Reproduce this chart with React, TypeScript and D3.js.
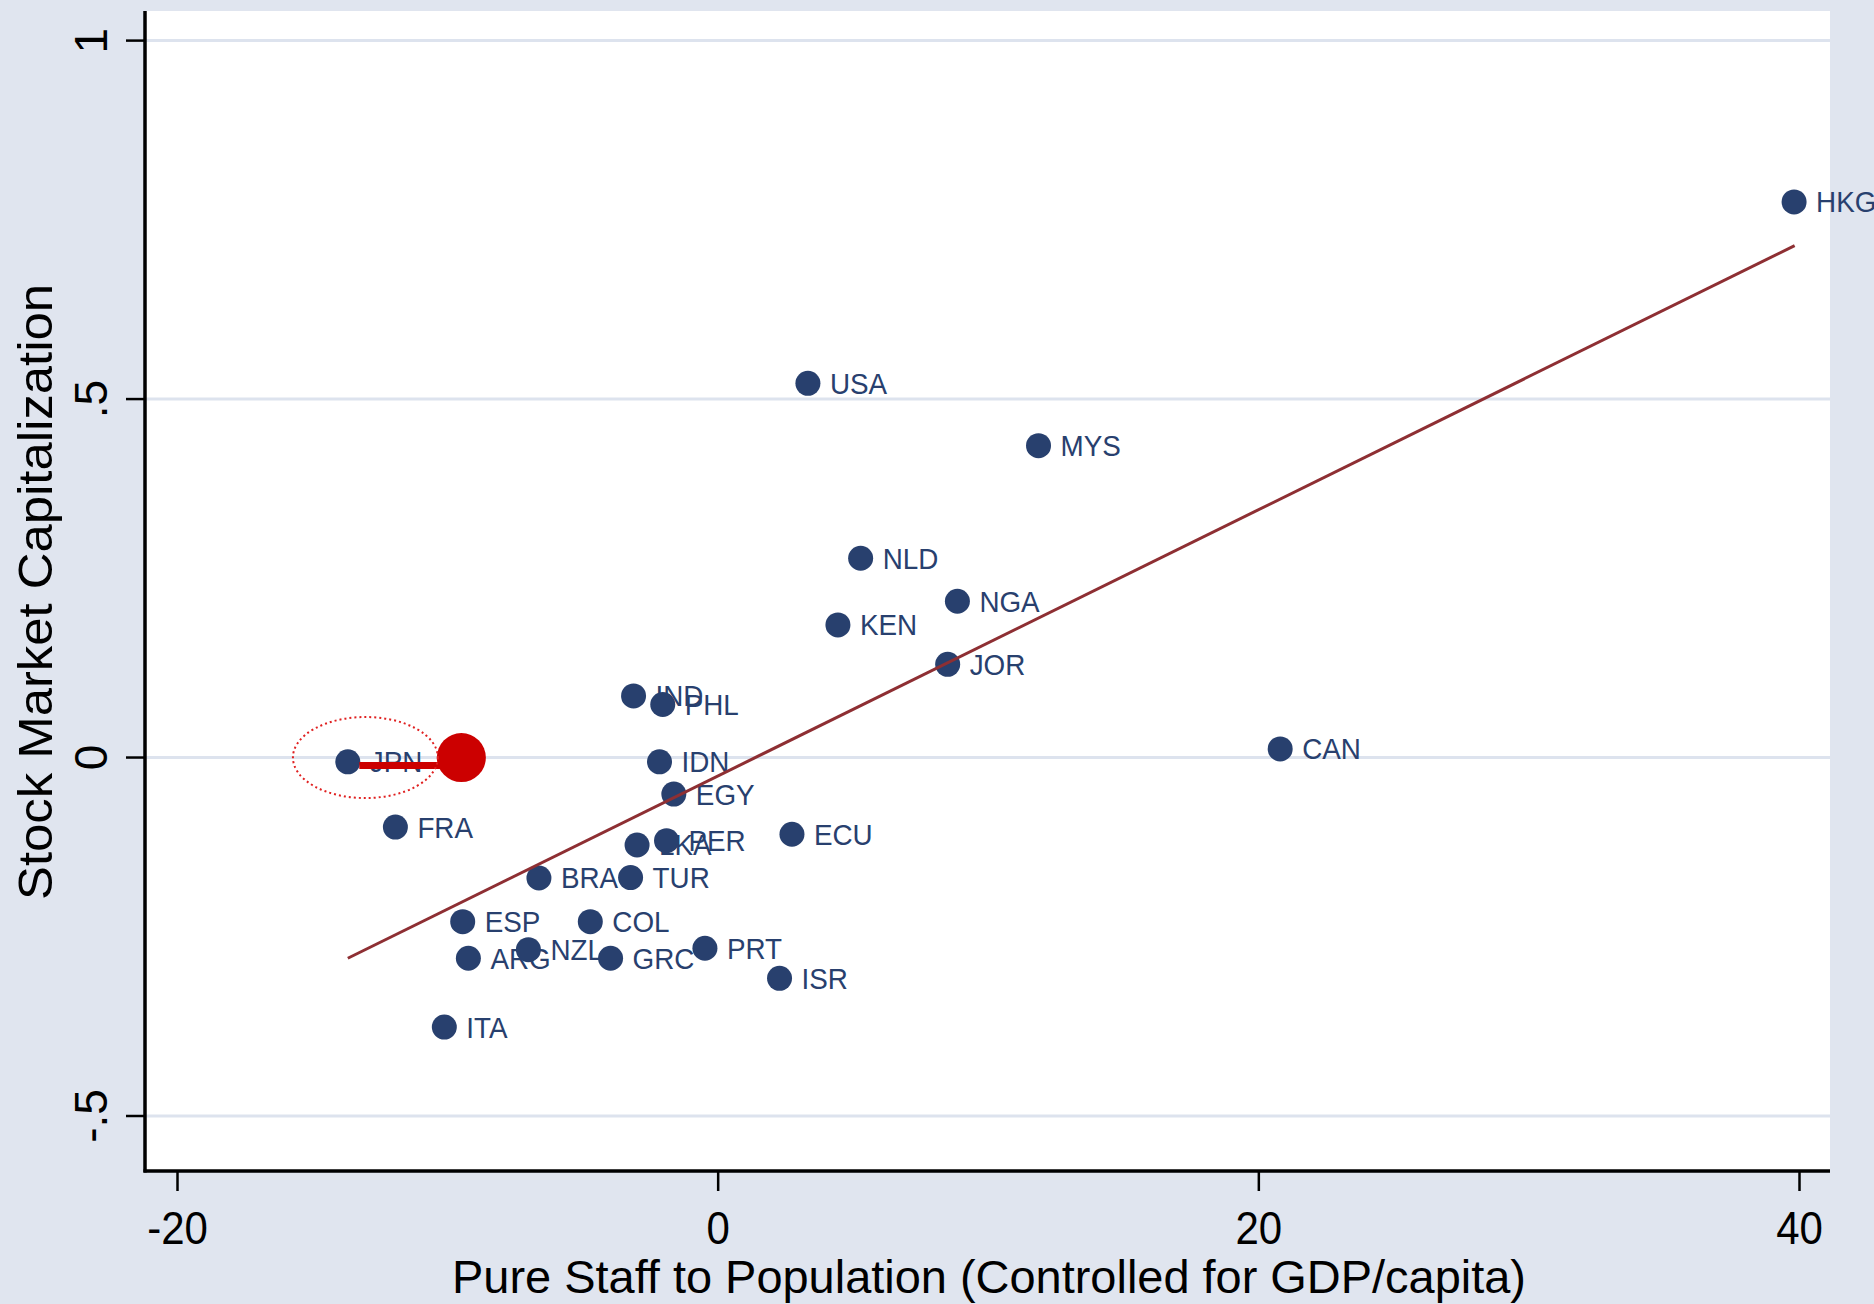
import React from "react";
import * as d3 from "d3";

// Country codes with staff-to-population (x) and stock market capitalization (y)
const countries = [
  "HKG", "USA", "MYS", "NLD", "NGA", "KEN", "JOR", "IND", "PHL", "CAN",
  "JPN", "IDN", "EGY", "FRA", "ECU", "LKA", "PER", "BRA", "TUR", "ESP",
  "COL", "PRT", "NZL", "ARG", "GRC", "ISR", "ITA",
];
const staff = [
  39.8, 3.32, 11.85, 5.27, 8.85, 4.43, 8.49, -3.13, -2.05, 20.79,
  -13.7, -2.17, -1.64, -11.94, 2.73, -3.0, -1.91, -6.63, -3.24, -9.45,
  -4.73, -0.49, -7.02, -9.24, -3.98, 2.27, -10.13,
];
const capitalization = [
  0.775, 0.522, 0.435, 0.278, 0.218, 0.185, 0.13, 0.086, 0.074, 0.012,
  -0.006, -0.006, -0.051, -0.097, -0.107, -0.122, -0.116, -0.168, -0.1675, -0.229,
  -0.229, -0.266, -0.268, -0.28, -0.28, -0.308, -0.376,
];

// Linear fit endpoints
const fitX = [-13.7, 39.82];
const fitY = [-0.28, 0.714];

// Japan shifted to its counterfactual position
const shiftCountry = "JPN";
const shiftedX = -9.5;
const shiftedY = 0.0;
const shiftLineY = -0.011;
// Dotted ring around the original Japan position (center x, center y, radius x, radius y)
const ringCenter = [-13.05, 0];
const ringRadius = [2.68, 0.0565];

const xTicks = [-20, 0, 20, 40];
const yTicks = [-0.5, 0, 0.5, 1];
const yTickLabels = ["-.5", "0", ".5", "1"];

const xTitle = "Pure Staff to Population (Controlled for GDP/capita)";
const yTitle = "Stock Market Capitalization";

const W = 1874;
const H = 1304;
const plotLeft = 145;
const plotRight = 1830;
const plotTop = 11;
const plotBottom = 1171;

const BG = "#E0E5EF";
const GRID = "#DDE3EE";
const NAVY = "#28406E";
const FIT = "#8E2F33";
const RED = "#CC0000";
const FONT = "'Liberation Sans', Arial, Helvetica, sans-serif";

export default function App() {
  const x = d3.scaleLinear().domain([-20, 40]).range([177.5, 1799.5]);
  const y = d3.scaleLinear().domain([-0.5, 1]).range([1116, 40.6]);
  const r = 12.5;

  const points = countries.map((c, i) => ({ c, px: x(staff[i]), py: y(capitalization[i]) }));
  const jpn = points.find((p) => p.c === shiftCountry)!;

  const fitPath = d3.line<number>()
    .x((_, i) => x(fitX[i]))
    .y((v) => y(v))(fitY) as string;

  return (
    <svg
      width={W}
      height={H}
      style={{ position: "absolute", left: 0, top: 0, display: "block" }}
      fontFamily={FONT}
    >
      <rect x={0} y={0} width={W} height={H} fill={BG} />
      <rect x={plotLeft} y={plotTop} width={plotRight - plotLeft} height={plotBottom - plotTop} fill="#FFFFFF" />

      {/* horizontal gridlines */}
      {yTicks.map((t) => (
        <line key={"g" + t} x1={plotLeft} x2={plotRight} y1={y(t)} y2={y(t)} stroke={GRID} strokeWidth={3} />
      ))}

      {/* markers with labels */}
      {points.map((p) => (
        <g key={p.c}>
          <circle cx={p.px} cy={p.py} r={r} fill={NAVY} />
          <text
            transform={`translate(${p.px + 22},${p.py + 10.5}) scale(1.03,1.1)`}
            fontSize={27}
            fill={NAVY}
          >
            {p.c}
          </text>
        </g>
      ))}

      {/* fitted line */}
      <path d={fitPath} fill="none" stroke={FIT} strokeWidth={3} />

      {/* shift of Japan */}
      <line
        x1={jpn.px + r - 1}
        x2={x(shiftedX)}
        y1={y(shiftLineY)}
        y2={y(shiftLineY)}
        stroke={RED}
        strokeWidth={7}
      />
      <circle cx={x(shiftedX)} cy={y(shiftedY)} r={24.5} fill={RED} />
      <ellipse
        cx={x(ringCenter[0])}
        cy={y(ringCenter[1])}
        rx={x(ringCenter[0] + ringRadius[0]) - x(ringCenter[0])}
        ry={y(ringCenter[1]) - y(ringCenter[1] + ringRadius[1])}
        fill="none"
        stroke="#E02020"
        strokeWidth={2}
        strokeDasharray="2 3"
      />

      {/* axes */}
      <line x1={plotLeft} x2={plotLeft} y1={plotTop} y2={plotBottom + 1.5} stroke="#000" strokeWidth={3.5} />
      <line x1={plotLeft - 1.5} x2={plotRight} y1={plotBottom} y2={plotBottom} stroke="#000" strokeWidth={3.5} />

      {xTicks.map((t) => (
        <g key={"x" + t}>
          <line x1={x(t)} x2={x(t)} y1={plotBottom} y2={plotBottom + 20} stroke="#000" strokeWidth={2.5} />
          <text
            transform={`translate(${x(t)},1244) scale(1,1.1)`}
            textAnchor="middle"
            fontSize={42}
            fill="#000"
          >
            {t}
          </text>
        </g>
      ))}

      {yTicks.map((t, i) => (
        <g key={"y" + t}>
          <line x1={plotLeft - 19} x2={plotLeft} y1={y(t)} y2={y(t)} stroke="#000" strokeWidth={2.5} />
          <text
            transform={`translate(107,${y(t)}) rotate(-90)`}
            textAnchor="middle"
            fontSize={46}
            fill="#000"
          >
            {yTickLabels[i]}
          </text>
        </g>
      ))}

      <text
        x={989}
        y={1293}
        textAnchor="middle"
        fontSize={47}
        textLength={1074}
        lengthAdjust="spacingAndGlyphs"
        fill="#000"
      >
        {xTitle}
      </text>
      <text
        transform={`translate(52,592) rotate(-90)`}
        textAnchor="middle"
        fontSize={48}
        textLength={616}
        lengthAdjust="spacingAndGlyphs"
        fill="#000"
      >
        {yTitle}
      </text>
    </svg>
  );
}
